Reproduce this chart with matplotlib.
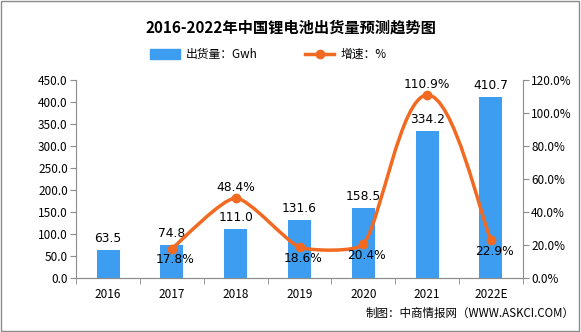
import numpy as np
import matplotlib
matplotlib.use('Agg')
import matplotlib.pyplot as plt
from matplotlib.path import Path
from matplotlib.patches import PathPatch, Patch, Rectangle
from matplotlib.lines import Line2D

plt.rcParams['font.family'] = ['Noto Sans CJK SC', 'DejaVu Sans']

years = ['2016', '2017', '2018', '2019', '2020', '2021', '2022E']
shipment = [63.5, 74.8, 111.0, 131.6, 158.5, 334.2, 410.7]   # Gwh
growth_years = ['2017', '2018', '2019', '2020', '2021', '2022E']
growth = [17.8, 48.4, 18.6, 20.4, 110.9, 22.9]                # %
growth_label_pos = ['below', 'above', 'below', 'below', 'above', 'below']

bar_color = '#3d9df0'
line_color = '#f26a21'
axis_color = '#8c8c8c'

fig = plt.figure(figsize=(5.81, 3.32), dpi=100)
fig.patches.append(Rectangle((0.002, 0.003), 0.995, 0.994, transform=fig.transFigure,
                             fill=False, edgecolor='#8a8a8a', lw=1.0))

ax = fig.add_axes([0.131, 0.163, 0.769, 0.596])
ax2 = ax.twinx()

x = np.arange(len(years))
ax.bar(x, shipment, width=0.36, color=bar_color, zorder=2)
for xi, v in zip(x, shipment):
    ax.text(xi, v + 12, f'{v:.1f}', ha='center', va='bottom', fontsize=8.8, family='DejaVu Sans')

ax.set_xlim(-0.5, len(years) - 0.5)
ax.set_ylim(0, 450)
ax.set_yticks(np.arange(0, 451, 50))
ax.set_yticklabels([f'{t:.1f}' for t in np.arange(0, 451, 50)])
ax2.set_ylim(0, 120)
ax2.set_yticks(np.arange(0, 121, 20))
ax2.set_yticklabels([f'{t:.1f}%' for t in np.arange(0, 121, 20)])

ax.set_xticks(x)
ax.set_xticklabels(years)
ax.set_xticks(np.arange(-0.5, len(years), 1), minor=True)
ax.tick_params(axis='x', which='major', length=0, pad=7, labelsize=8.5)
ax.tick_params(axis='x', which='minor', length=4, color=axis_color)
ax.tick_params(axis='y', length=4, color=axis_color, labelsize=8.5, pad=2)
ax2.tick_params(axis='y', length=4, color=axis_color, labelsize=8.5, pad=2)

for a in (ax, ax2):
    a.spines['top'].set_visible(False)
    for s in ('left', 'right', 'bottom'):
        a.spines[s].set_color(axis_color)
ax2.spines['left'].set_visible(False)
ax.spines['right'].set_visible(False)

# smoothed growth line (bezier through the points, handles scaled by segment length)
gx = np.array([years.index(y) for y in growth_years], dtype=float)
gy = np.array(growth, dtype=float)
w_px = 0.769 * 581
h_px = 0.596 * 332
kx = w_px / len(years)
ky = h_px / 120.0
P = np.column_stack([gx * kx, gy * ky])
n = len(P)
verts = [tuple(P[0])]
codes = [Path.MOVETO]
def tangent(i):
    a = P[max(i - 1, 0)]
    b = P[min(i + 1, n - 1)]
    d = b - a
    return d / np.hypot(*d)
for i in range(n - 1):
    L = np.hypot(*(P[i + 1] - P[i]))
    c1 = P[i] + tangent(i) * L / 6
    c2 = P[i + 1] - tangent(i + 1) * L / 6
    for p in (c1, c2, P[i + 1]):
        verts.append(tuple(p))
    codes += [Path.CURVE4] * 3
verts = [(vx / kx, vy / ky) for vx, vy in verts]
ax2.add_patch(PathPatch(Path(verts, codes), facecolor='none', edgecolor=line_color,
                        lw=2.5, zorder=3, capstyle='round'))
ax2.plot(gx, gy, 'o', color=line_color, markersize=6, zorder=4)
for xi, v, pos in zip(gx, gy, growth_label_pos):
    if pos == 'above':
        ax2.text(xi, v + 2.5, f'{v:.1f}%', ha='center', va='bottom', fontsize=8.8, family='DejaVu Sans')
    else:
        ax2.text(xi + 0.05, v - 3, f'{v:.1f}%', ha='center', va='top', fontsize=8.8, family='DejaVu Sans')

fig.text(0.5, 0.918, '2016-2022年中国锂电池出货量预测趋势图', ha='center', va='center',
         fontsize=11, fontweight='bold')

handles = [Patch(color=bar_color),
           Line2D([0], [0], color=line_color, lw=2.5, marker='o', markersize=6)]
fig.legend(handles, ['出货量：Gwh', '增速：%'], loc='center', bbox_to_anchor=(0.462, 0.835),
           ncol=2, frameon=False, fontsize=8.5, columnspacing=4, handlelength=2.5,
           handleheight=0.9, handletextpad=0.5)

fig.text(0.988, 0.055, '制图：中商情报网（WWW.ASKCI.COM）', ha='right', va='center', fontsize=8.3)

fig.savefig('out.png', dpi=100)
